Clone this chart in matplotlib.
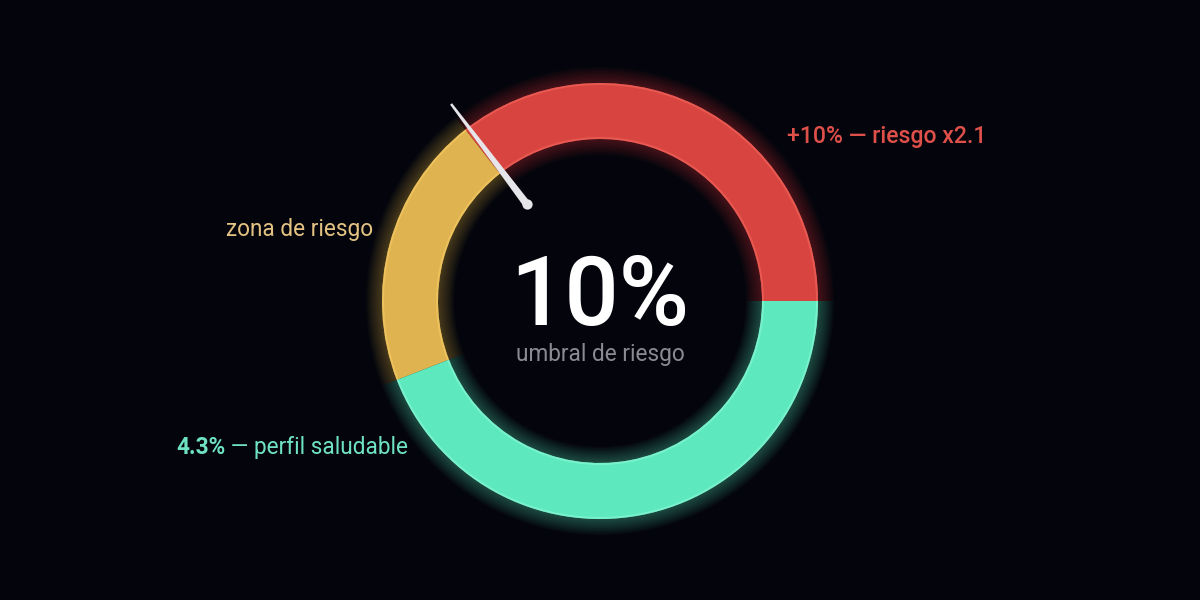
import matplotlib.pyplot as plt
import numpy as np

plt.rcParams['font.family'] = ['Roboto', 'DejaVu Sans']

# ring shares, counter-clockwise from 3 o'clock: red, yellow, green
segments = ['riesgo x2.1', 'zona de riesgo', 'perfil saludable']
shares = [35.6, 20.3, 44.1]
colors = ['#d8443f', '#dfb34f', '#5de9bd']
edges = ['#f0625a', '#f4c862', '#85f7d3']
needle_share = 35.3   # threshold marker, % of the circle

center_value = '10%'
center_label = 'umbral de riesgo'

bg = '#04050c'
cx, cy = 600, 299
R, W = 218, 56

fig = plt.figure(figsize=(12, 6), dpi=100, facecolor=bg)
ax = fig.add_axes([0, 0, 1, 1])
ax.set_facecolor(bg)

# soft glow behind the ring
for d in np.linspace(16, 1, 12):
    ax.pie(shares, radius=R + d, center=(cx, cy), colors=colors,
           startangle=0, counterclock=True,
           wedgeprops=dict(width=W + 2 * d, linewidth=0, alpha=0.03))

ax.pie(shares, radius=R, center=(cx, cy), colors=colors,
       startangle=0, counterclock=True,
       wedgeprops=dict(width=W, linewidth=0))

# thin lighter rims on both edges
for r in (R, R - W + 2):
    ax.pie(shares, radius=r, center=(cx, cy), colors=edges,
           startangle=0, counterclock=True,
           wedgeprops=dict(width=2, linewidth=0, alpha=0.7))

# needle
th = np.deg2rad(needle_share / 100 * 360)
u = np.array([np.cos(th), np.sin(th)])
p = np.array([-np.sin(th), np.cos(th)])
r0, r1 = 121, 247
c = np.array([cx, cy])
pts = np.array([c + u * r0 + p * 3.8, c + u * r1 + p * 1.2,
                c + u * r1 - p * 1.2, c + u * r0 - p * 3.8])
ax.fill(pts[:, 0], pts[:, 1], color='#e6e6ea', lw=0, zorder=5)
ax.plot(*(c + u * r0), 'o', ms=7.4, color='#e6e6ea', mew=0, zorder=5)

# centre text
ax.text(cx, 600 - 325, center_value, ha='center', va='baseline',
        fontsize=69, color='white', fontweight='medium')
ax.text(cx, 600 - 361, center_label, ha='center', va='baseline',
        fontsize=16.3, color='#8a8a95')

# labels
ax.text(787, 600 - 143, '+10% — ' + segments[0], ha='left', va='baseline',
        fontsize=16.6, color='#e0504b', fontweight='medium')
ax.text(226, 600 - 236, segments[1], ha='left', va='baseline',
        fontsize=16.3, color='#e3c282')
t1 = ax.text(176, 600 - 454, '4.3%', ha='left', va='baseline',
             fontsize=16.3, color='#6fe3c1', fontweight='bold')
ax.annotate(' — ' + segments[2], xy=(1, 0), xycoords=t1, va='bottom',
            ha='left', fontsize=16.3, color='#6fe3c1')

ax.set_xlim(0, 1200)
ax.set_ylim(0, 600)
ax.set_aspect('equal')
ax.axis('off')

fig.savefig('out.png', dpi=100, facecolor=bg)
